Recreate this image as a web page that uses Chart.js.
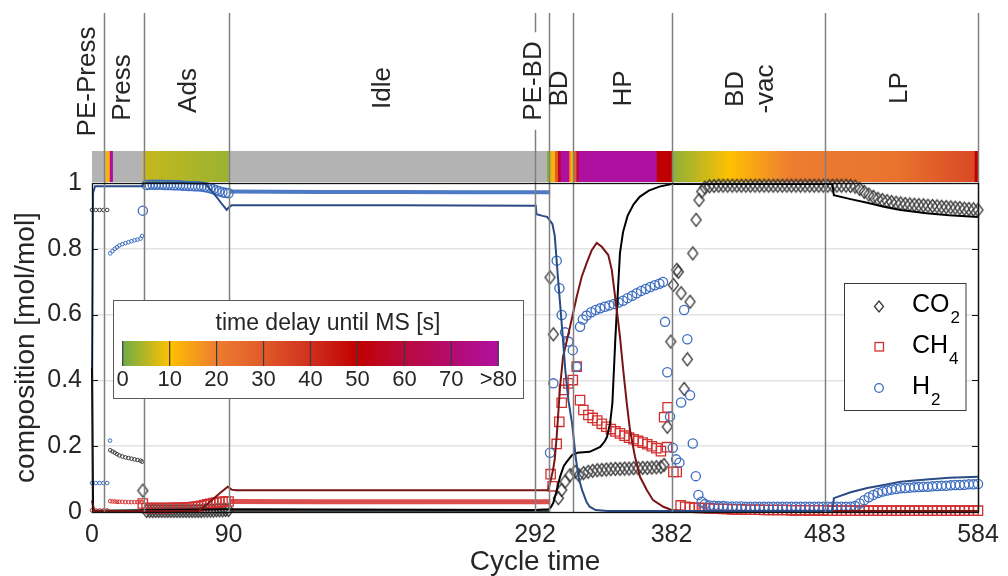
<!DOCTYPE html>
<html><head><meta charset="utf-8">
<script src="https://cdn.jsdelivr.net/npm/chart.js@4.4.1/dist/chart.umd.min.js"></script>
<style>html,body{margin:0;padding:0;background:#fff;}canvas{display:block;}</style>
</head><body>
<canvas id="c" width="1008" height="576"></canvas>
<script>
// ---------------- DATA ----------------
const xTickValues = [0, 90, 292, 382, 483, 584];
const phaseBoundaries = [8, 34, 90, 292, 301, 317, 382.5, 483, 584];
const phaseNames = ['PE-Press', 'Press', 'Ads', 'Idle', 'PE-BD', 'BD', 'HP', ['BD', '-vac'], 'LP'];

// time delay bar (segments in cycle time, delay in s)
const delayFrom  = [9.2, 11.9, 33.8, 300.1, 301.7, 303.2, 305.4, 307.4, 309.2, 314.6, 315.6, 317.9, 319.5, 321.0, 372.4, 382.5, 420.6, 460.0, 530.0, 582.0];
const delayTo    = [11.9, 13.6, 90.0, 301.7, 303.2, 305.4, 307.4, 309.2, 314.6, 315.6, 317.9, 319.5, 321.0, 372.4, 382.5, 420.6, 460.0, 530.0, 582.0, 584.0];
const delayStart = [12, 80, 6, 2, 7, 12, 30, 55, 80, 25, 11, 28, 60, 80, 50, 2, 10, 20, 23, 50];
const delayEnd   = [12, 80, 3, 2, 7, 12, 30, 55, 80, 25, 11, 28, 60, 80, 50, 10, 20, 23, 34, 50];
const cmapVals   = [0, 10, 20, 30, 40, 50, 60, 70, 80];
const cmapColors = ['#6fac46', '#ffc000', '#ed7d31', '#e05a28', '#d0301e', '#c00000', '#b90a3c', '#b40b6f', '#b010a0'];
const delayTickLabels = ['0', '10', '20', '30', '40', '50', '60', '70', '>80'];

// measured: PE-Press / Press (small markers)
const prePressX   = [0, 2.5, 5, 7.5, 10];
const prePressCO2 = [0.918, 0.918, 0.918, 0.918, 0.918];
const prePressH2  = [0.088, 0.088, 0.088, 0.088, 0.088];
const prePressCH4 = [0.005, 0.005, 0.005, 0.005, 0.005];
const pressX   = [12, 13.5, 15, 16.5, 18, 20, 22, 24, 26, 28, 30, 32, 33];
const pressH2  = [0.786, 0.793, 0.8, 0.805, 0.81, 0.814, 0.817, 0.82, 0.823, 0.826, 0.828, 0.831, 0.839];
const pressCO2 = [0.188, 0.184, 0.18, 0.176, 0.172, 0.169, 0.166, 0.164, 0.162, 0.16, 0.158, 0.156, 0.153];
const pressCH4 = [0.033, 0.032, 0.032, 0.031, 0.031, 0.031, 0.03, 0.03, 0.03, 0.03, 0.03, 0.03, 0.03];
const pressH2ExtraX = [11.9];
const pressH2Extra  = [0.217];

// measured: Ads (large markers)
const adsX   = [33.5, 36, 38, 40, 42, 44, 46, 48, 50, 52, 54, 56, 58, 60, 62, 64, 66, 68, 70, 72, 74, 76, 78, 80, 82, 84, 86, 88, 90];
const adsH2  = [0.916, 0.994, 0.995, 0.995, 0.995, 0.995, 0.995, 0.994, 0.994, 0.994, 0.993, 0.993, 0.993, 0.992, 0.992, 0.991, 0.991, 0.99, 0.99, 0.989, 0.988, 0.986, 0.984, 0.981, 0.978, 0.975, 0.972, 0.97, 0.969];
const adsCO2 = [0.065, 0.003, 0.003, 0.003, 0.003, 0.003, 0.003, 0.003, 0.003, 0.003, 0.003, 0.003, 0.003, 0.003, 0.003, 0.003, 0.003, 0.003, 0.003, 0.003, 0.004, 0.004, 0.004, 0.004, 0.005, 0.005, 0.005, 0.006, 0.006];
const adsCH4 = [0.026, 0.012, 0.012, 0.012, 0.012, 0.012, 0.012, 0.012, 0.012, 0.012, 0.013, 0.013, 0.013, 0.013, 0.014, 0.014, 0.015, 0.016, 0.017, 0.019, 0.021, 0.023, 0.025, 0.027, 0.029, 0.03, 0.031, 0.032, 0.032];

// measured: Idle + PE-BD (dense small markers)
const idleX   = [90.5, 150, 200, 250, 302];
const idleH2  = [0.974, 0.973, 0.973, 0.972, 0.972];
const idleCH4 = [0.032, 0.031, 0.031, 0.031, 0.031];
const idleCO2 = [0.004, 0.004, 0.004, 0.004, 0.004];

// measured: BD / HP / early BD-vac (large markers)
const bdH2X = [301.9, 304.1, 306.3, 308.1, 309.6, 311.8, 314.0, 316.9, 319.5, 321.7, 323.5, 326, 329, 332, 335, 338, 341, 344, 347, 350, 353, 356, 359, 362, 365, 368, 371, 374, 376.4, 377.7, 379.2, 381.0, 382.8, 385.0, 387.2, 388.3, 390.3, 392.4, 394.2, 396.0, 398.0, 399.7, 401.9];
const bdH2  = [0.18, 0.391, 0.764, 0.68, 0.599, 0.546, 0.518, 0.492, 0.442, 0.563, 0.585, 0.597, 0.607, 0.614, 0.619, 0.624, 0.628, 0.632, 0.637, 0.642, 0.65, 0.657, 0.665, 0.672, 0.678, 0.684, 0.689, 0.694, 0.699, 0.578, 0.425, 0.29, 0.195, 0.16, 0.15, 0.333, 0.614, 0.525, 0.355, 0.208, 0.109, 0.052, 0.031];
const bdCO2X = [301.9, 304.1, 307.4, 309.6, 311.8, 315.1, 318.4, 321, 324, 327, 330, 333, 336, 339, 342, 345, 348, 351, 354, 357, 360, 363, 366, 369, 372, 375, 377.0, 379.2, 381.5, 383.2, 385.4, 386.5, 388.3, 390.3, 392.4, 394.2, 396.0, 398.2, 400.1, 401.9];
const bdCO2  = [0.713, 0.54, 0.042, 0.067, 0.092, 0.112, 0.122, 0.112, 0.118, 0.122, 0.125, 0.127, 0.128, 0.129, 0.13, 0.131, 0.131, 0.132, 0.132, 0.133, 0.133, 0.134, 0.134, 0.135, 0.136, 0.137, 0.143, 0.259, 0.518, 0.69, 0.736, 0.73, 0.665, 0.374, 0.464, 0.639, 0.786, 0.888, 0.948, 0.974];
const bdCH4X = [302.3, 303.6, 306.3, 308.0, 309.6, 311.1, 314.0, 316.9, 319.5, 321.7, 323.9, 327.2, 330, 333, 336, 339, 342, 345, 348, 351, 354, 357, 360, 363, 366, 369, 372, 375, 377.1, 379.0, 379.4, 383.2, 385.4, 388, 391, 394, 397, 400, 402];
const bdCH4  = [0.115, 0.078, 0.207, 0.274, 0.332, 0.371, 0.391, 0.401, 0.442, 0.34, 0.31, 0.295, 0.286, 0.278, 0.268, 0.259, 0.252, 0.245, 0.239, 0.232, 0.226, 0.221, 0.216, 0.211, 0.206, 0.2, 0.194, 0.185, 0.288, 0.197, 0.318, 0.122, 0.122, 0.02, 0.016, 0.014, 0.013, 0.012, 0.012];

// measured: BD-vac (dense)
const vacX   = [404, 407, 410, 413, 416, 419, 422, 425, 428, 431, 434, 437, 440, 443, 446, 449, 452, 455, 458, 461, 464, 467, 470, 473, 476, 479, 482];
const vacCO2 = [0.986, 0.99, 0.991, 0.992, 0.992, 0.992, 0.992, 0.992, 0.992, 0.992, 0.992, 0.992, 0.992, 0.992, 0.992, 0.992, 0.992, 0.992, 0.992, 0.992, 0.992, 0.992, 0.992, 0.992, 0.992, 0.992, 0.992];
const vacH2  = [0.024, 0.02, 0.019, 0.018, 0.018, 0.017, 0.017, 0.017, 0.017, 0.016, 0.016, 0.016, 0.016, 0.016, 0.016, 0.016, 0.016, 0.016, 0.016, 0.016, 0.016, 0.016, 0.016, 0.016, 0.016, 0.016, 0.016];
const vacCH4 = [0.012, 0.011, 0.01, 0.01, 0.009, 0.009, 0.008, 0.008, 0.008, 0.007, 0.007, 0.007, 0.007, 0.006, 0.006, 0.006, 0.006, 0.006, 0.006, 0.005, 0.005, 0.005, 0.005, 0.005, 0.005, 0.005, 0.005];

// measured: LP (dense)
const lpX   = [485, 488, 491, 494, 497, 500, 503, 506, 509, 512, 515, 518, 521, 524, 527, 530, 533, 536, 539, 542, 545, 548, 551, 554, 557, 560, 563, 566, 569, 572, 575, 578, 581, 584];
const lpCO2 = [0.992, 0.992, 0.992, 0.992, 0.992, 0.991, 0.989, 0.982, 0.973, 0.965, 0.958, 0.952, 0.948, 0.945, 0.942, 0.94, 0.938, 0.936, 0.935, 0.934, 0.933, 0.932, 0.931, 0.93, 0.929, 0.928, 0.927, 0.926, 0.925, 0.924, 0.922, 0.921, 0.92, 0.918];
const lpH2  = [0.016, 0.016, 0.016, 0.016, 0.016, 0.016, 0.018, 0.026, 0.036, 0.045, 0.052, 0.058, 0.062, 0.065, 0.068, 0.07, 0.072, 0.073, 0.074, 0.075, 0.076, 0.077, 0.077, 0.078, 0.079, 0.08, 0.08, 0.081, 0.082, 0.082, 0.083, 0.084, 0.084, 0.085];
const lpCH4 = [0.004, 0.004, 0.004, 0.004, 0.004, 0.004, 0.004, 0.004, 0.004, 0.004, 0.004, 0.004, 0.004, 0.004, 0.004, 0.004, 0.004, 0.004, 0.004, 0.004, 0.004, 0.004, 0.004, 0.004, 0.004, 0.004, 0.004, 0.004, 0.004, 0.004, 0.004, 0.004, 0.004, 0.004];

// simulated lines
const simH2X = [0, 0.7, 2, 33.5, 34.5, 60, 74.5, 80, 85, 88.8, 90, 92, 200, 292.5, 293, 297, 300, 302, 303.5, 305, 307, 308.5, 310, 312, 314, 316.4, 319, 321, 323, 326, 328, 332, 340, 488, 489, 500, 511, 522, 533, 550, 565, 584];
const simH2  = [0.44, 0.97, 0.99, 0.99, 1.0, 1.0, 0.998, 0.97, 0.94, 0.918, 0.925, 0.932, 0.932, 0.931, 0.905, 0.9, 0.897, 0.885, 0.875, 0.84, 0.72, 0.635, 0.55, 0.43, 0.34, 0.27, 0.16, 0.1, 0.067, 0.03, 0.016, 0.006, 0.003, 0.003, 0.042, 0.06, 0.073, 0.082, 0.092, 0.099, 0.104, 0.107];
const simCO2X = [0, 0.7, 2, 90, 292, 301, 302.5, 304, 306, 308.5, 311, 313, 316.4, 320, 328, 335, 338, 339.5, 341.5, 343, 344, 345, 346.5, 348, 350, 353, 357, 361, 367, 374, 382, 488, 489, 500, 511, 522, 533, 550, 565, 584];
const simCO2  = [0.44, 0.01, 0.004, 0.008, 0.006, 0.008, 0.015, 0.027, 0.06, 0.107, 0.14, 0.153, 0.173, 0.18, 0.183, 0.198, 0.215, 0.229, 0.27, 0.33, 0.43, 0.53, 0.66, 0.787, 0.85, 0.9, 0.935, 0.958, 0.977, 0.989, 0.997, 0.997, 0.963, 0.951, 0.94, 0.928, 0.918, 0.908, 0.902, 0.897];
const simCH4X = [0, 1.5, 70, 75, 80, 85, 89.5, 92, 95, 292, 300.6, 302, 303.9, 305, 306.3, 308.5, 310.5, 315.1, 319.5, 322.8, 326.1, 329.4, 332.7, 336, 340.3, 342.6, 345.9, 348, 350.2, 352.5, 354.6, 357.9, 361.2, 365.7, 369.8, 376.6, 382, 390, 584];
const simCH4  = [0.035, 0.003, 0.003, 0.02, 0.04, 0.06, 0.077, 0.068, 0.066, 0.066, 0.066, 0.09, 0.128, 0.16, 0.229, 0.38, 0.472, 0.563, 0.654, 0.715, 0.757, 0.796, 0.818, 0.806, 0.781, 0.736, 0.614, 0.533, 0.43, 0.33, 0.25, 0.168, 0.107, 0.067, 0.036, 0.016, 0.006, 0.003, 0.003];

// ---------------- STYLE / LAYOUT ----------------
const FONT = '"Liberation Sans", Arial, Helvetica, sans-serif';
const TXT = '#262626';
const C_H2 = '#3b6cbf', C_CH4 = '#d42f2f', C_CO2 = '#3a3a3a';
const labelAt   = [-3, 20.4, 63.6, 191.8, 291.4, 308.5, 350.7, 434, 532.6];
const labelCY   = [81.5, 87.5, 90.5, 88, 81, 88.5, 88.5, 89, 88];
const labelMask = [false, false, false, false, true, false, false, false, false];

Chart.defaults.font.family = FONT;

const pts = (xs, ys) => xs.map((x, i) => ({ x: x, y: ys[i] }));

function hexRgb(h) { return [parseInt(h.substr(1,2),16), parseInt(h.substr(3,2),16), parseInt(h.substr(5,2),16)]; }
function delayColor(d) {
  d = Math.max(cmapVals[0], Math.min(cmapVals[cmapVals.length-1], d));
  for (let i = 0; i < cmapVals.length - 1; i++) {
    if (d <= cmapVals[i+1]) {
      const t = (d - cmapVals[i]) / (cmapVals[i+1] - cmapVals[i]);
      const a = hexRgb(cmapColors[i]), b = hexRgb(cmapColors[i+1]);
      return 'rgb(' + a.map((v, k) => Math.round(v + (b[k]-v)*t)).join(',') + ')';
    }
  }
  return cmapColors[cmapColors.length-1];
}

function diamondCanvas(w, h, color, lw) {
  const c = document.createElement('canvas');
  c.width = w + 3; c.height = h + 3;
  const g = c.getContext('2d');
  const cx = c.width/2, cy = c.height/2;
  g.strokeStyle = color; g.lineWidth = lw;
  g.beginPath(); g.moveTo(cx, cy - h/2); g.lineTo(cx + w/2, cy); g.lineTo(cx, cy + h/2); g.lineTo(cx - w/2, cy); g.closePath(); g.stroke();
  return c;
}
const diamond = diamondCanvas(10, 13, C_CO2, 1.3);

function markerSet(label, data, color, style, radius, bw) {
  return { label, data, showLine: false, pointStyle: style, pointRadius: radius, pointBorderWidth: bw,
    pointBorderColor: color, borderColor: color, pointBackgroundColor: 'rgba(0,0,0,0)', backgroundColor: 'rgba(0,0,0,0)', clip: false };
}
function lineSet(label, data, color, width) {
  return { label, data, showLine: true, pointRadius: 0, borderColor: color, borderWidth: width, backgroundColor: color, tension: 0, clip: false };
}

const datasets = [
  lineSet('H2 sim', pts(simH2X, simH2), '#2a4b86', 2),
  lineSet('CH4 sim', pts(simCH4X, simCH4), '#7a1515', 2),
  lineSet('CO2 sim', pts(simCO2X, simCO2), '#000000', 2),
  markerSet('H2', [].concat(pts(adsX, adsH2), pts(bdH2X, bdH2), pts(vacX, vacH2), pts(lpX, lpH2)), C_H2, 'circle', 4.6, 1.3),
  markerSet('H2 small', [].concat(pts(prePressX, prePressH2), pts(pressH2ExtraX, pressH2Extra), pts(pressX, pressH2)), C_H2, 'circle', 1.8, 1),
  lineSet('H2 idle', pts(idleX, idleH2), 'rgba(59,108,191,0.9)', 4),
  markerSet('CH4', [].concat(pts(adsX, adsCH4), pts(bdCH4X, bdCH4), pts(vacX, vacCH4), pts(lpX, lpCH4)), C_CH4, 'rect', 6.6, 1.3),
  markerSet('CH4 small', [].concat(pts(prePressX, prePressCH4), pts(pressX, pressCH4)), C_CH4, 'circle', 1.8, 1),
  lineSet('CH4 idle', pts(idleX, idleCH4), 'rgba(212,47,47,0.85)', 5),
  markerSet('CO2', [].concat(pts(adsX, adsCO2), pts(bdCO2X, bdCO2), pts(vacX, vacCO2), pts(lpX, lpCO2)), C_CO2, diamond, 6, 1.3),
  markerSet('CO2 small', [].concat(pts(prePressX, prePressCO2), pts(pressX, pressCO2)), C_CO2, 'circle', 1.8, 1),
  lineSet('CO2 idle', pts(idleX, idleCO2), 'rgba(58,58,58,0.9)', 3)
];

const decor = {
  id: 'decor',
  beforeDatasetsDraw(chart) {
    const ctx = chart.ctx, xs = chart.scales.x, a = chart.chartArea;
    const top = 151, h = 31;
    ctx.save();
    ctx.fillStyle = '#b3b3b3';
    ctx.fillRect(a.left, top, a.right - a.left, h);
    for (let i = 0; i < delayFrom.length; i++) {
      const x0 = xs.getPixelForValue(delayFrom[i]), x1 = xs.getPixelForValue(delayTo[i]);
      const g = ctx.createLinearGradient(x0, 0, x1, 0);
      g.addColorStop(0, delayColor(delayStart[i]));
      g.addColorStop(1, delayColor(delayEnd[i]));
      ctx.fillStyle = g;
      ctx.fillRect(x0 - 0.3, top, x1 - x0 + 0.6, h);
    }
    ctx.restore();
  },
  afterDatasetsDraw(chart) {
    const ctx = chart.ctx, xs = chart.scales.x, ys = chart.scales.y, a = chart.chartArea;
    ctx.save();
    // phase lines
    ctx.strokeStyle = '#808080'; ctx.lineWidth = 1.5;
    phaseBoundaries.forEach(v => {
      const x = Math.round(xs.getPixelForValue(v)) + 0.5;
      ctx.beginPath(); ctx.moveTo(x, 13); ctx.lineTo(x, a.bottom); ctx.stroke();
    });
    // frame
    ctx.strokeStyle = '#111'; ctx.lineWidth = 1.3;
    ctx.strokeRect(a.left + 0.5, a.top + 0.5, a.right - a.left, a.bottom - a.top);
    // inner ticks
    ctx.lineWidth = 1;
    [0.2, 0.4, 0.6, 0.8].forEach(v => {
      const y = Math.round(ys.getPixelForValue(v)) + 0.5;
      ctx.beginPath(); ctx.moveTo(a.left, y); ctx.lineTo(a.left + 6, y); ctx.stroke();
      ctx.beginPath(); ctx.moveTo(a.right - 6, y); ctx.lineTo(a.right, y); ctx.stroke();
    });
    // phase labels
    ctx.font = '26px ' + FONT;
    phaseNames.forEach((name, i) => {
      const cx = xs.getPixelForValue(labelAt[i]), cy = labelCY[i];
      const lines = Array.isArray(name) ? name : [name];
      lines.forEach((t, j) => {
        const lx = cx + (j - (lines.length - 1) / 2) * 30;
        ctx.save(); ctx.translate(lx, cy); ctx.rotate(-Math.PI / 2);
        ctx.textAlign = 'center'; ctx.textBaseline = 'middle';
        if (labelMask[i]) {
          const w = ctx.measureText(t).width;
          ctx.fillStyle = '#fff'; ctx.fillRect(-w / 2 - 9, -11, w + 18, 22);
        }
        ctx.fillStyle = TXT; ctx.fillText(t, 0, 0);
        ctx.restore();
      });
    });
    ctx.restore();
  },
  afterDraw(chart) {
    const ctx = chart.ctx;
    ctx.save();
    // colour-bar legend
    ctx.fillStyle = '#fff'; ctx.fillRect(113, 300, 410, 98);
    ctx.strokeStyle = '#5a5a5a'; ctx.lineWidth = 1; ctx.strokeRect(113.5, 300.5, 410, 98);
    ctx.fillStyle = TXT; ctx.font = '23px ' + FONT; ctx.textAlign = 'center'; ctx.textBaseline = 'middle';
    ctx.fillText('time delay until MS [s]', 328, 324);
    const bx0 = 122.7, bx1 = 498.3, by = 341, bh = 25;
    const g = ctx.createLinearGradient(bx0, 0, bx1, 0);
    cmapVals.forEach((v, i) => g.addColorStop(v / 80, cmapColors[i]));
    ctx.fillStyle = g; ctx.fillRect(bx0, by, bx1 - bx0, bh);
    ctx.strokeStyle = '#3a3a3a'; ctx.lineWidth = 1.2;
    ctx.font = '22px ' + FONT; ctx.fillStyle = TXT;
    cmapVals.forEach((v, i) => {
      const x = bx0 + (bx1 - bx0) * v / 80;
      ctx.beginPath(); ctx.moveTo(x, by); ctx.lineTo(x, by + bh); ctx.stroke();
      ctx.fillText(delayTickLabels[i], x, 380);
    });
    // species legend
    ctx.fillStyle = '#fff'; ctx.fillRect(844.5, 283.5, 121.5, 127);
    ctx.strokeStyle = '#3a3a3a'; ctx.lineWidth = 1; ctx.strokeRect(844.5, 283.5, 121.5, 127);
    const mx = 879;
    // diamond
    ctx.strokeStyle = C_CO2; ctx.lineWidth = 1.3;
    ctx.beginPath(); ctx.moveTo(mx, 301); ctx.lineTo(mx + 4.5, 306.5); ctx.lineTo(mx, 312); ctx.lineTo(mx - 4.5, 306.5); ctx.closePath(); ctx.stroke();
    // square
    ctx.strokeStyle = C_CH4; ctx.strokeRect(mx - 4, 342.5, 8.5, 8.5);
    // circle
    ctx.strokeStyle = C_H2; ctx.beginPath(); ctx.arc(mx, 388, 4.3, 0, Math.PI * 2); ctx.stroke();
    ctx.fillStyle = '#000'; ctx.textAlign = 'left'; ctx.textBaseline = 'alphabetic';
    const items = [['CO', '2', 311.5], ['CH', '4', 353], ['H', '2', 393.5]];
    items.forEach(it => {
      ctx.font = '25px ' + FONT;
      ctx.fillText(it[0], 912, it[2]);
      const w = ctx.measureText(it[0]).width;
      ctx.font = '17px ' + FONT;
      ctx.fillText(it[1], 912 + w + 1, it[2] + 11);
    });
    ctx.restore();
  }
};

new Chart(document.getElementById('c'), {
  type: 'scatter',
  data: { datasets },
  options: {
    responsive: false, animation: false, devicePixelRatio: 1, events: [],
    layout: { padding: { top: 183, right: 30, left: 0, bottom: 0 } },
    plugins: { legend: { display: false }, tooltip: { enabled: false } },
    scales: {
      x: {
        type: 'linear', min: 0, max: 584,
        afterBuildTicks: s => { s.ticks = xTickValues.map(v => ({ value: v })); },
        afterFit: s => { s.height = 64; },
        ticks: { autoSkip: false, maxRotation: 0, minRotation: 0, padding: 8, color: TXT, font: { size: 25, lineHeight: 1.2 }, callback: v => String(v) },
        grid: { display: false, drawTicks: false }, border: { display: false },
        title: { display: true, text: 'Cycle time', color: TXT, font: { size: 28, lineHeight: 1 }, padding: 0 }
      },
      y: {
        type: 'linear', min: 0, max: 1,
        afterFit: s => { s.width = 92; },
        ticks: { stepSize: 0.2, padding: 10, color: TXT, font: { size: 25 }, callback: v => String(Math.round(v * 10) / 10) },
        grid: { color: c => (c.tick && c.tick.value > 0.01 && c.tick.value < 0.99) ? '#e3e3e3' : 'rgba(0,0,0,0)', lineWidth: 1.5, drawTicks: false },
        border: { display: false },
        title: { display: true, text: 'composition [mol/mol]', color: TXT, font: { size: 28, lineHeight: 1.2 }, padding: { top: 9, bottom: 0 } }
      }
    }
  },
  plugins: [decor]
});
</script>
</body></html>
